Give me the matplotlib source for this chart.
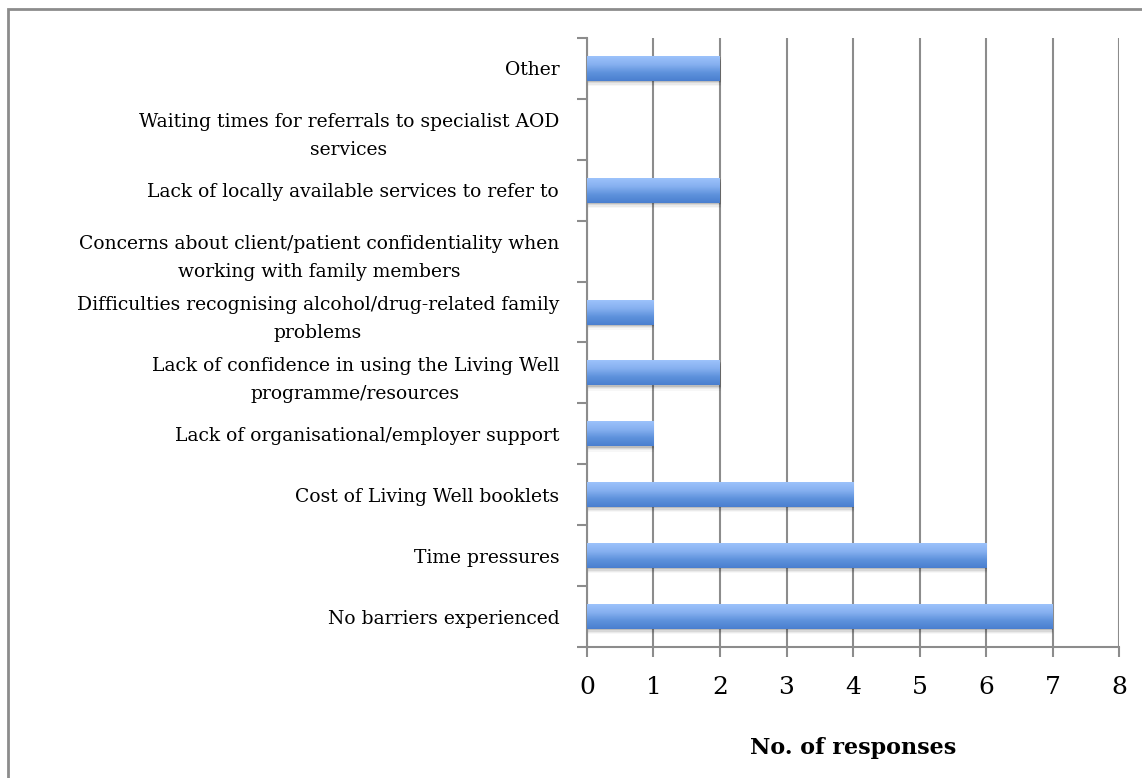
import numpy as np
import matplotlib
matplotlib.use("Agg")
import matplotlib.pyplot as plt
from matplotlib.colors import LinearSegmentedColormap
from matplotlib.patches import Rectangle

categories = [
    "No barriers experienced",
    "Time pressures",
    "Cost of Living Well booklets",
    "Lack of organisational/employer support",
    "Lack of confidence in using the Living Well\nprogramme/resources",
    "Difficulties recognising alcohol/drug-related family\nproblems",
    "Concerns about client/patient confidentiality when\nworking with family members",
    "Lack of locally available services to refer to",
    "Waiting times for referrals to specialist AOD\nservices",
    "Other",
]
responses = [7, 6, 4, 1, 2, 1, 0, 2, 0, 2]
xticks = list(range(0, 9))

GRID = "#8c8c8c"
bar_cmap = LinearSegmentedColormap.from_list(
    "barfill", ["#9cc2fb", "#86b0f0", "#5e92dc", "#4a7fcf"])

fig = plt.figure(figsize=(11.42, 7.78), dpi=100)
ax = fig.add_axes([587 / 1142, 1 - 647 / 778, (1119 - 587) / 1142, (647 - 38) / 778])

# frame round the chart area
fig.add_artist(Rectangle((8 / 1142, -0.05), 1.2, 1 - 9 / 778 + 0.05,
                         transform=fig.transFigure, fill=False,
                         edgecolor=GRID, linewidth=2.0, zorder=0))

ypos = np.arange(len(categories))
h = 0.41
grad = np.linspace(0, 1, 64).reshape(-1, 1)
for y, v in zip(ypos, responses):
    if v <= 0:
        continue
    # soft shadow under the bar
    for k, a in enumerate([0.12, 0.08, 0.05, 0.03]):
        ax.add_patch(Rectangle((0, y - h / 2 - 0.02 - 0.022 * k), v + 0.01, h,
                               facecolor="black", alpha=a, linewidth=0, zorder=2))
    ax.imshow(grad, cmap=bar_cmap, aspect="auto",
              extent=(0, v, y - h / 2, y + h / 2), origin="upper", zorder=3)

ax.set_xlim(0, 8)
ax.set_ylim(-0.5, len(categories) - 0.5)

ax.set_xticks(xticks)
ax.set_xticklabels([str(t) for t in xticks], fontsize=18, family="DejaVu Serif")
ax.tick_params(axis="x", direction="out", length=7, width=1.5, color=GRID, pad=14)
ax.grid(axis="x", color=GRID, linewidth=1.5, zorder=1)
ax.set_axisbelow(True)

ax.set_yticks(ypos)
ax.set_yticklabels(categories, fontsize=13.5, family="DejaVu Serif",
                   multialignment="center", linespacing=1.7)
ax.set_yticks(np.arange(-0.5, len(categories), 1.0), minor=True)
ax.tick_params(axis="y", which="major", length=0, pad=20)
ax.tick_params(axis="y", which="minor", direction="out", length=7, width=1.5, color=GRID)

for s in ["top", "right"]:
    ax.spines[s].set_visible(False)
for s in ["left", "bottom"]:
    ax.spines[s].set_color(GRID)
    ax.spines[s].set_linewidth(1.5)

ax.set_xlabel("No. of responses", fontsize=16, fontweight="bold",
              family="DejaVu Serif", labelpad=27)

fig.savefig("out.png", dpi=100)
